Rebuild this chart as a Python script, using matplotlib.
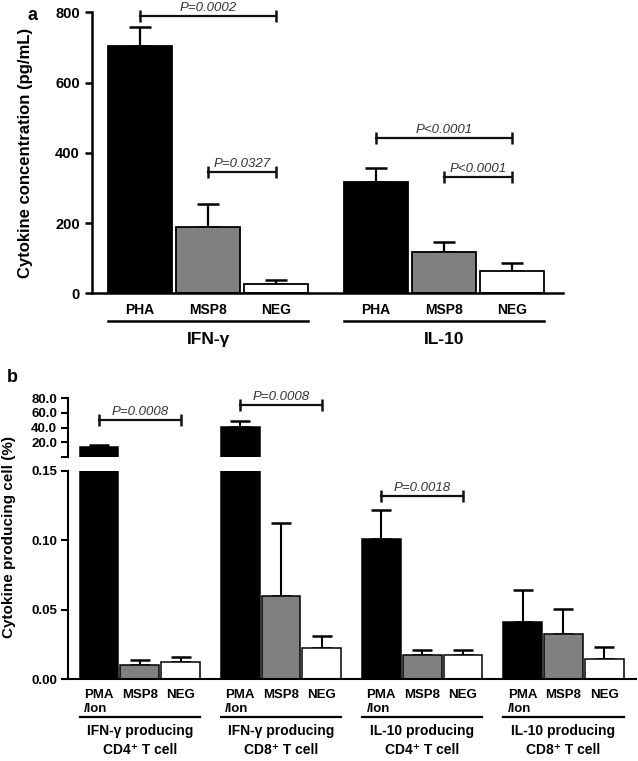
import matplotlib
matplotlib.use("Agg")
import matplotlib.pyplot as plt
import matplotlib.transforms as mtransforms
import numpy as np

plt.rcParams['font.family'] = ['Liberation Sans', 'DejaVu Sans']

# ---- panel a data ----
cytokines = ["IFN-γ", "IL-10"]
stimuli_a = ["PHA", "MSP8", "NEG"]
conc_mean = [[705, 188, 27], [316, 118, 64]]
conc_err = [[53, 67, 12], [42, 28, 21]]
# (group, bar from, bar to, label)
pvals_a = [(0, 0, 2, "P=0.0002"), (0, 1, 2, "P=0.0327"),
           (1, 0, 2, "P<0.0001"), (1, 1, 2, "P<0.0001")]

# ---- panel b data ----
cell_groups = ["IFN-γ producing\nCD4⁺ T cell", "IFN-γ producing\nCD8⁺ T cell",
               "IL-10 producing\nCD4⁺ T cell", "IL-10 producing\nCD8⁺ T cell"]
stimuli_b = ["PMA\n/Ion", "MSP8", "NEG"]
pct_mean = [[13.7, 0.0101, 0.0121], [41.0, 0.0601, 0.0222],
            [0.1005, 0.0174, 0.0176], [0.0411, 0.0326, 0.0145]]
pct_err = [[2.7, 0.0037, 0.0038], [7.3, 0.052, 0.009],
           [0.021, 0.0036, 0.0032], [0.0229, 0.0179, 0.0087]]
pvals_b = [(0, 0, 2, "P=0.0008"), (1, 0, 2, "P=0.0008"), (2, 0, 2, "P=0.0018")]

colors = ["#000000", "#808080", "#ffffff"]

W, H = 638, 761
fig = plt.figure(figsize=(W / 100, H / 100), dpi=100)


def box(x0, y0, x1, y1):
    # pixel box -> figure fraction [l, b, w, h]
    return [x0 / W, 1 - y1 / H, (x1 - x0) / W, (y1 - y0) / H]


def style(ax, lw=1.8):
    for s in ["top", "right"]:
        ax.spines[s].set_visible(False)
    ax.spines["left"].set_linewidth(lw)
    ax.spines["bottom"].set_linewidth(lw)
    ax.tick_params(axis="y", width=lw, length=5)
    ax.tick_params(axis="x", length=0)
    for t in ax.get_yticklabels():
        t.set_fontweight("bold")


def bracket(ax, x1, x2, y, text, fs):
    ax.plot([x1, x2], [y, y], color="#111111", lw=1.6, clip_on=False, zorder=5)
    ax.plot([x1, x2], [y, y], ls="none", marker="|", ms=9, mew=1.8,
            color="#111111", clip_on=False, zorder=5)
    ax.annotate(text, ((x1 + x2) / 2, y), xytext=(0, 1.5), textcoords="offset points",
                ha="center", va="bottom", fontsize=fs, style="italic", color="#333333")


# ================= panel a =================
axA = fig.add_axes(box(91.7, 12.3, 563, 293.3))
gap_a = 3.46
wa = 0.94
xa = [[g * gap_a + i for i in range(3)] for g in range(2)]
for g in range(2):
    axA.errorbar(xa[g], conc_mean[g], yerr=[np.zeros(3), conc_err[g]], fmt="none",
                 ecolor="k", elinewidth=1.6, capsize=8, capthick=1.8, zorder=1)
    axA.bar(xa[g], conc_mean[g], width=wa, color=colors, edgecolor="k",
            linewidth=1.3, zorder=2)
axA.set_xlim(-0.71, gap_a + 2 + 0.75)
axA.set_ylim(0, 800)
axA.set_yticks([0, 200, 400, 600, 800])
axA.set_xticks([x for row in xa for x in row])
axA.set_xticklabels(stimuli_a * 2, fontweight="bold", fontsize=10)
axA.tick_params(axis="x", pad=7)
axA.tick_params(axis="y", labelsize=10.5)
style(axA)
axA.set_ylabel("Cytokine concentration (pg/mL)", fontweight="bold", fontsize=12)
axA.yaxis.set_label_coords(33 / W, 0.5, transform=mtransforms.blended_transform_factory(fig.transFigure, axA.transAxes))

heights_a = [790, 345, 442, 331]
for (g, i, j, txt), yy in zip(pvals_a, heights_a):
    bracket(axA, xa[g][i], xa[g][j], yy, txt, 9.5)

trA = mtransforms.blended_transform_factory(axA.transData, fig.transFigure)
for g in range(2):
    axA.plot([xa[g][0] - wa / 2, xa[g][2] + wa / 2], [1 - 321 / H] * 2, color="k",
             lw=1.8, transform=trA, clip_on=False)
    axA.text(xa[g][1], 1 - 340 / H, cytokines[g], transform=trA, ha="center",
             va="center", fontsize=12.5, fontweight="bold")

fig.text(32 / W, 1 - 16 / H, "a", fontsize=13, fontweight="bold", ha="center", va="center")

# ================= panel b =================
axL = fig.add_axes(box(68.3, 470.7, 636, 679))
axU = fig.add_axes(box(68.3, 398.3, 636, 456.7))
gap_b = 3.46
wb = 0.95
xb = [[g * gap_b + i for i in range(3)] for g in range(4)]
for g in range(4):
    axL.errorbar(xb[g], pct_mean[g], yerr=[np.zeros(3), pct_err[g]], fmt="none",
                 ecolor="k", elinewidth=1.5, capsize=7, capthick=1.8, zorder=1)
    axL.bar(xb[g], pct_mean[g], width=wb, color=colors, edgecolor="k",
            linewidth=1.1, zorder=2)
    big = [k for k in range(3) if pct_mean[g][k] > 0.15]
    if big:
        bx = [xb[g][k] for k in big]
        axU.errorbar(bx, [pct_mean[g][k] for k in big],
                     yerr=[np.zeros(len(big)), [pct_err[g][k] for k in big]], fmt="none",
                     ecolor="k", elinewidth=1.5, capsize=7, capthick=1.8, zorder=1)
        axU.bar(bx, [pct_mean[g][k] for k in big], width=wb,
                color=[colors[k] for k in big], edgecolor="k", linewidth=1.1, zorder=2)

xlim_b = (-0.75, 3 * gap_b + 2 + 0.78)
for ax in (axL, axU):
    ax.set_xlim(*xlim_b)

axL.set_ylim(0, 0.15)
axL.set_yticks([0, 0.05, 0.10, 0.15])
axL.set_yticklabels(["0.00", "0.05", "0.10", "0.15"])
axL.set_xticks([x for row in xb for x in row])
axL.set_xticklabels(stimuli_b * 4, fontweight="bold", fontsize=9.5)
for t in axL.get_xticklabels():
    t.set_multialignment("left")
axL.tick_params(axis="x", pad=7)
axL.tick_params(axis="y", labelsize=9.5, pad=3)
style(axL, 1.5)

axU.set_ylim(0, 80)
axU.set_yticks([0, 20, 40, 60, 80])
axU.set_yticklabels(["", "20.0", "40.0", "60.0", "80.0"])
axU.set_xticks([])
axU.tick_params(axis="y", labelsize=9.5, pad=3)
style(axU, 1.5)
axU.spines["bottom"].set_visible(False)

bracket(axU, xb[0][0], xb[0][2], 50, pvals_b[0][3], 9.5)
bracket(axU, xb[1][0], xb[1][2], 70.6, pvals_b[1][3], 9.5)
bracket(axL, xb[2][0], xb[2][2], 0.1317, pvals_b[2][3], 9.5)

trB = mtransforms.blended_transform_factory(axL.transData, fig.transFigure)
for g in range(4):
    axL.plot([xb[g][0] - wb / 2, xb[g][2] + wb / 2], [1 - 716.7 / H] * 2, color="k",
             lw=1.6, transform=trB, clip_on=False)
    axL.text(xb[g][1], 1 - 740.5 / H, cell_groups[g], transform=trB, ha="center",
             va="center", fontsize=10, fontweight="bold", linespacing=1.45)

fig.text(9.5 / W, 1 - 537 / H, "Cytokine producing cell (%)", rotation=90,
         fontsize=11, fontweight="bold", ha="center", va="center")
fig.text(12 / W, 1 - 377 / H, "b", fontsize=13, fontweight="bold", ha="center", va="center")

fig.savefig("out.png", dpi=100)
